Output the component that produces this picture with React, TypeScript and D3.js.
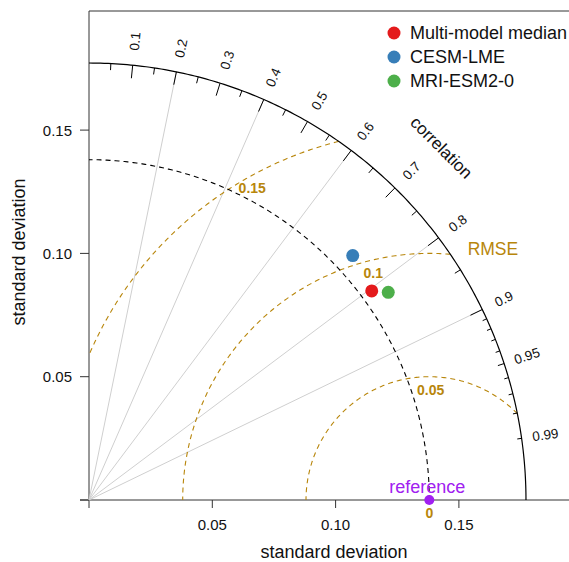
import React from "react";
import * as d3 from "d3";

const width = 569;
const height = 562;
const font = "'Liberation Sans', Arial, sans-serif";

// taylor diagram values
const refSd = 0.138;
const maxSd = 0.1772;
const modelNames = ["Multi-model median", "CESM-LME", "MRI-ESM2-0"];
const modelSd = [0.1426, 0.1458, 0.1477];
const modelCor = [0.804, 0.7335, 0.8216];
const modelColors = ["#E41A1C", "#377EB8", "#4DAF4A"];

const sdTicks = [0, 0.05, 0.1, 0.15];
const sdTickLabels = ["", "0.05", "0.10", "0.15"];
const corLabels = [0.1, 0.2, 0.3, 0.4, 0.5, 0.6, 0.7, 0.8, 0.9, 0.95, 0.99];
const corGrid = [0.2, 0.4, 0.6, 0.8, 0.9];
const bigTicks = [0.1, 0.2, 0.3, 0.4, 0.5, 0.6, 0.7, 0.8, 0.9];
const medTicks = [0.05, 0.15, 0.25, 0.35, 0.45, 0.55, 0.65, 0.75, 0.85, 0.95];
const smlTicks = [0.91, 0.92, 0.93, 0.94, 0.96, 0.97, 0.98, 0.99];
const rmseLevels = [0, 0.05, 0.1, 0.15];
const rmseLabels = ["0", "0.05", "0.1", "0.15"];

const gold = "#B8860B";
const purple = "#A020F0";

const origin = { x: 89, y: 500 };
const pxPerUnit = 2466;

const x = d3.scaleLinear().domain([0, 0.1]).range([origin.x, origin.x + 0.1 * pxPerUnit]);
const y = d3.scaleLinear().domain([0, 0.1]).range([origin.y, origin.y - 0.1 * pxPerUnit]);

const polar = (r: number, a: number) => [x(r * Math.cos(a)), y(r * Math.sin(a))];

export default function App() {
  const line = d3.line<[number, number]>().x(d => x(d[0])).y(d => y(d[1]));

  // outer arc + ref-sd arc
  const arcPts = (r: number) =>
    d3.range(0, 181).map(i => {
      const a = (i / 180) * (Math.PI / 2);
      return [r * Math.cos(a), r * Math.sin(a)] as [number, number];
    });

  // rmse arcs, clipped to the quadrant inside maxSd
  const rmseArcs = rmseLevels.map((g, gi) => {
    if (g === 0) return { path: null, label: [x(refSd), y(0)], text: rmseLabels[gi] };
    const c0 = (maxSd * maxSd - refSd * refSd - g * g) / (2 * refSd * g);
    const t0 = c0 >= 1 ? 0 : Math.acos(Math.max(-1, c0));
    const c1 = -refSd / g;
    const t1 = c1 <= -1 ? Math.PI : Math.acos(c1);
    const pts = d3.range(0, 201).map(i => {
      const t = t0 + ((t1 - t0) * i) / 200;
      return [refSd + g * Math.cos(t), g * Math.sin(t)] as [number, number];
    });
    const idx = Math.floor(45 + (gi * 25) / (rmseLevels.length - 1));
    const ta = (idx - 1) * 0.03;
    return {
      path: line(pts),
      label: [x(refSd + g * Math.cos(ta)), y(g * Math.sin(ta))],
      text: rmseLabels[gi],
    };
  });

  const tick = (c: number, len: number, key: string) => {
    const a = Math.acos(c);
    const [x1, y1] = polar(maxSd, a);
    const [x2, y2] = polar(maxSd * (1 - len), a);
    return <line key={key} x1={x1} y1={y1} x2={x2} y2={y2} stroke="#000" strokeWidth={1} />;
  };

  const corrPos = polar(maxSd * 1.14, Math.PI / 4);

  return (
    <svg width={width} height={height} style={{ position: "absolute", left: 0, top: 0, background: "#fff" }} fontFamily={font}>
      {/* frame */}
      <line x1={origin.x} y1={11} x2={width} y2={11} stroke="#333" />
      <line x1={origin.x} y1={11} x2={origin.x} y2={origin.y} stroke="#333" />
      <line x1={origin.x - 9} y1={origin.y} x2={width} y2={origin.y} stroke="#333" />

      {/* sd axes */}
      {sdTicks.map((t, i) => (
        <g key={"xt" + i}>
          <line x1={x(t)} x2={x(t)} y1={origin.y} y2={origin.y + 8} stroke="#333" />
          <text x={x(t)} y={524} textAnchor="middle" dominantBaseline="central" fontSize={15} fill="#111">
            {sdTickLabels[i]}
          </text>
          <line x1={origin.x - 9} x2={origin.x} y1={y(t)} y2={y(t)} stroke="#333" />
          <text x={72} y={y(t)} textAnchor="end" dominantBaseline="central" fontSize={15} fill="#111">
            {sdTickLabels[i]}
          </text>
        </g>
      ))}
      <text x={334} y={558} textAnchor="middle" fontSize={18} fill="#111">standard deviation</text>
      <text transform="translate(25,252) rotate(-90)" textAnchor="middle" fontSize={18} fill="#111">standard deviation</text>

      {/* correlation grid */}
      {corGrid.map(c => {
        const [x2, y2] = polar(maxSd, Math.acos(c));
        return <line key={"g" + c} x1={x(0)} y1={y(0)} x2={x2} y2={y2} stroke="#cfcfcf" strokeWidth={1} />;
      })}

      {/* rmse arcs */}
      {rmseArcs.map((r, i) =>
        r.path ? <path key={"r" + i} d={r.path} fill="none" stroke={gold} strokeWidth={1.1} strokeDasharray="5,4" /> : null
      )}

      {/* reference sd arc */}
      <path d={line(arcPts(refSd)) || ""} fill="none" stroke="#000" strokeWidth={1.1} strokeDasharray="5,4" />

      {/* outer arc */}
      <path d={line(arcPts(maxSd)) || ""} fill="none" stroke="#000" strokeWidth={1.2} />
      {bigTicks.map(c => tick(c, 0.03, "b" + c))}
      {medTicks.map(c => tick(c, 0.015, "m" + c))}
      {smlTicks.map(c => tick(c, 0.01, "s" + c))}

      {corLabels.map(c => {
        const a = Math.acos(c);
        const [lx, ly] = polar(maxSd * 1.055, a);
        return (
          <text key={"cl" + c} transform={`translate(${lx},${ly}) rotate(${(-a * 180) / Math.PI})`}
            textAnchor="middle" dominantBaseline="central" fontSize={13.5} fill="#111">
            {String(c)}
          </text>
        );
      })}
      <text transform={`translate(${corrPos[0]},${corrPos[1]}) rotate(45)`} textAnchor="middle" dominantBaseline="central" fontSize={17} fill="#111">
        correlation
      </text>

      {/* rmse labels */}
      {rmseArcs.map((r, i) => (
        <text key={"rl" + i} x={r.label[0]} y={r.label[1] + 13} textAnchor="middle" dominantBaseline="central"
          fontSize={14} fontWeight="bold" fill={gold}>
          {r.text}
        </text>
      ))}
      <text x={x(0.1638)} y={y(0.1018)} textAnchor="middle" dominantBaseline="central" fontSize={17.5} fill={gold}>RMSE</text>

      {/* reference */}
      <circle cx={x(refSd)} cy={y(0)} r={5} fill={purple} />
      <text x={x(refSd) - 2} y={493} textAnchor="middle" fontSize={18} fill={purple}>reference</text>

      {/* models */}
      {modelNames.map((n, i) => {
        const [cx, cy] = polar(modelSd[i], Math.acos(modelCor[i]));
        return <circle key={n} cx={cx} cy={cy} r={6.5} fill={modelColors[i]} />;
      })}

      {/* legend */}
      {modelNames.map((n, i) => (
        <g key={"lg" + n} transform={`translate(394,${33 + i * 24})`}>
          <circle r={6.5} fill={modelColors[i]} />
          <text x={16} y={0} dominantBaseline="central" fontSize={18} fill="#111">{n}</text>
        </g>
      ))}
    </svg>
  );
}
